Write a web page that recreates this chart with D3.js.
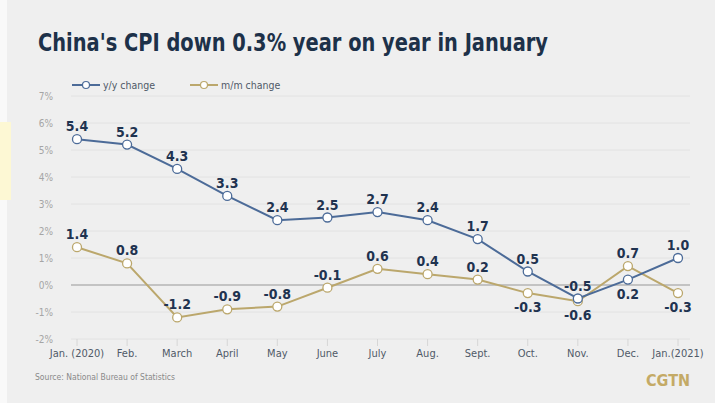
<!DOCTYPE html>
<html>
<head>
<meta charset="utf-8">
<script src="https://cdn.jsdelivr.net/npm/d3@7"></script>
<style>
  body { margin: 0; background: #efefef; }
  svg { display: block; }
  .cond { font-family: "DejaVu Sans Condensed", "Liberation Sans Narrow", "Roboto", sans-serif; font-stretch: condensed; }
</style>
</head>
<body>
<svg id="chart" width="715" height="403"></svg>
<script>
// data
let months = ["Jan. (2020)", "Feb.", "March", "April", "May", "June", "July", "Aug.", "Sept.", "Oct.", "Nov.", "Dec.", "Jan.(2021)"]
let yyChange = [5.4, 5.2, 4.3, 3.3, 2.4, 2.5, 2.7, 2.4, 1.7, 0.5, -0.5, 0.2, 1.0]
let mmChange = [1.4, 0.8, -1.2, -0.9, -0.8, -0.1, 0.6, 0.4, 0.2, -0.3, -0.6, 0.7, -0.3]
let yTicks = [7, 6, 5, 4, 3, 2, 1, 0, -1, -2]
// where the value label sits
let yyPlace = ["up","up","up","up","up","up","up","up","up","up","up","down","up"]
let mmPlace = ["up","up","up","up","up","up","up","up","up","down","down","up","down"]

const svg = d3.select("#chart")
const W = 715, H = 403

svg.append("rect").attr("width", W).attr("height", H).attr("fill", "#efefef")
svg.append("rect").attr("width", 7).attr("height", H).attr("fill", "#f9f9f9")
svg.append("rect").attr("y", 122).attr("width", 11).attr("height", 78).attr("fill", "#fdf8d4")

let x = d3.scalePoint()
    .domain(months)
    .range([77, 678])

let y = d3.scaleLinear()
    .domain([-2, 7])
    .range([339, 96])

// title
svg.append("text")
    .attr("x", 38).attr("y", 51)
    .attr("class", "cond")
    .attr("textLength", 510).attr("lengthAdjust", "spacingAndGlyphs")
    .style("font-size", "24px").style("font-weight", "bold")
    .attr("fill", "#1d3149")
    .text("China's CPI down 0.3% year on year in January")

// grid
svg.append("g").selectAll("line")
    .data(yTicks)
    .join("line")
    .attr("x1", 71).attr("x2", 690)
    .attr("y1", d => y(d)).attr("y2", d => y(d))
    .attr("stroke", d => d === 0 ? "#b4b4b4" : "#e2e2e2")
    .attr("stroke-width", d => d === 0 ? 1.3 : 1)

svg.append("g").selectAll("text")
    .data(yTicks)
    .join("text")
    .attr("class", "cond")
    .attr("x", 53).attr("y", d => y(d) + 3.5)
    .attr("text-anchor", "end")
    .style("font-size", "10px")
    .attr("fill", "#a5a5a5")
    .text(d => d + "%")

// x axis ticks + labels
svg.append("g").selectAll("line")
    .data(months)
    .join("line")
    .attr("x1", d => x(d)).attr("x2", d => x(d))
    .attr("y1", y(-2)).attr("y2", y(-2) + 7)
    .attr("stroke", "#d6d6d6")

svg.append("g").selectAll("text")
    .data(months)
    .join("text")
    .attr("class", "cond")
    .attr("x", d => x(d)).attr("y", 357)
    .attr("text-anchor", "middle")
    .style("font-size", "11px")
    .attr("fill", "#4f5a68")
    .text(d => d)

function drawSeries(vals, place, color) {
    let line = d3.line()
        .x((d, i) => x(months[i]))
        .y(d => y(d))

    svg.append("path")
        .datum(vals)
        .attr("d", line)
        .attr("fill", "none")
        .attr("stroke", color)
        .attr("stroke-width", 2)

    svg.append("g").selectAll("circle")
        .data(vals)
        .join("circle")
        .attr("cx", (d, i) => x(months[i]))
        .attr("cy", d => y(d))
        .attr("r", 4.5)
        .attr("fill", "#fff")
        .attr("stroke", color)
        .attr("stroke-width", 1.3)
}

function drawLabels(vals, place) {
    svg.append("g").selectAll("text")
        .data(vals)
        .join("text")
        .attr("class", "cond")
        .attr("x", (d, i) => x(months[i]))
        .attr("y", (d, i) => place[i] === "up" ? y(d) - 8 : y(d) + 19)
        .attr("text-anchor", "middle")
        .style("font-size", "14px").style("font-weight", "bold")
        .attr("fill", "#1f3350")
        .text(d => d.toFixed(1))
}

drawSeries(mmChange, mmPlace, "#bba76c")
drawSeries(yyChange, yyPlace, "#4c6b98")
drawLabels(mmChange, mmPlace)
drawLabels(yyChange, yyPlace)

// legend
let legend = [["y/y change", "#4c6b98", 72], ["m/m change", "#bba76c", 190]]
for (let [name, col, lx] of legend) {
    svg.append("line")
        .attr("x1", lx).attr("x2", lx + 28)
        .attr("y1", 85).attr("y2", 85)
        .attr("stroke", col).attr("stroke-width", 2)
    svg.append("circle")
        .attr("cx", lx + 14).attr("cy", 85).attr("r", 3.5)
        .attr("fill", "#fff").attr("stroke", col).attr("stroke-width", 1.2)
    svg.append("text")
        .attr("class", "cond")
        .attr("x", lx + 31).attr("y", 89)
        .style("font-size", "10.5px")
        .attr("fill", "#4f5a68")
        .text(name)
}

// footer
svg.append("text")
    .attr("class", "cond")
    .attr("x", 35).attr("y", 380)
    .style("font-size", "8.5px")
    .attr("fill", "#8a8a8a")
    .text("Source: National Bureau of Statistics")

svg.append("text")
    .attr("class", "cond")
    .attr("x", 690).attr("y", 386)
    .attr("text-anchor", "end")
    .style("font-size", "16px").style("font-weight", "bold")
    .attr("fill", "#c4aa66")
    .text("CGTN")
</script>
</body>
</html>
